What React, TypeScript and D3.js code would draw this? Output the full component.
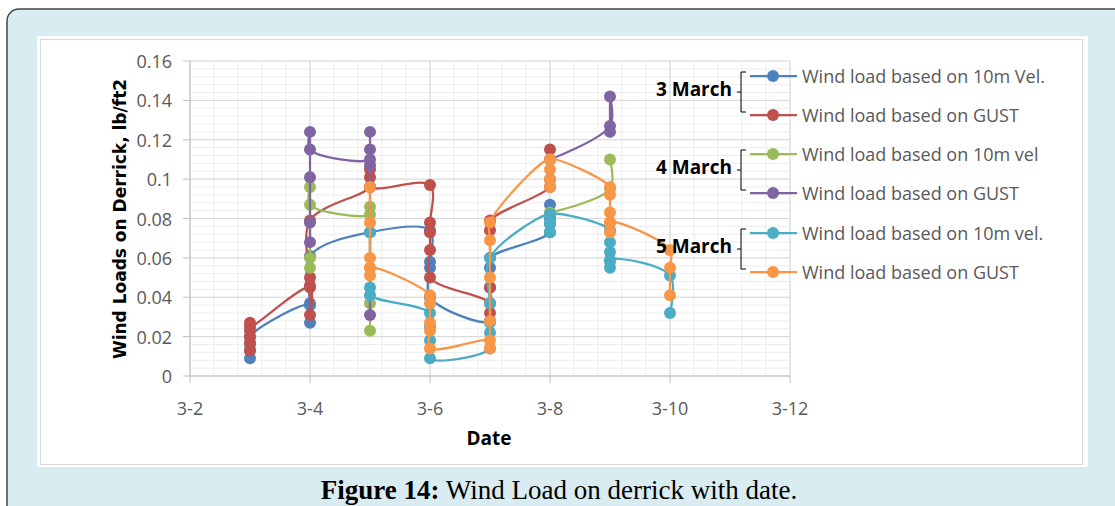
import * as d3 from 'd3';

// dates on the x axis (day of March)
const days = [3, 4, 5, 6, 7, 8, 9, 10];
const xTickDays = [2, 4, 6, 8, 10, 12];
const yTicks = [0, 0.02, 0.04, 0.06, 0.08, 0.1, 0.12, 0.14, 0.16];

// each entry = readings stacked on one date (null = no reading that date)
const mar3Vel10m = [
  [0.009, 0.013, 0.016, 0.02],
  [0.036, 0.027, 0.037, 0.061],
  [0.073],
  [0.074, 0.058, 0.055, 0.04],
  [0.028, 0.045, 0.055, 0.06],
  [0.073, 0.08, 0.087],
  null,
  null,
];
const mar3Gust = [
  [0.013, 0.017, 0.02, 0.023, 0.027, 0.025],
  [0.045, 0.031, 0.046, 0.05, 0.079],
  [0.096, 0.101, 0.105, 0.096],
  [0.097, 0.078, 0.073, 0.064, 0.05],
  [0.037, 0.032, 0.045, 0.074, 0.079],
  [0.096, 0.1, 0.115],
  null,
  null,
];
const mar4Vel10m = [
  null,
  [0.055, 0.06, 0.096, 0.087],
  [0.082, 0.086, 0.037, 0.023],
  null,
  null,
  [0.083],
  [0.095, 0.11],
  null,
];
const mar4Gust = [
  null,
  [0.068, 0.078, 0.101, 0.124, 0.115],
  [0.11, 0.115, 0.124, 0.107, 0.031],
  null,
  null,
  [0.11],
  [0.127, 0.142, 0.124],
  null,
];
const mar5Vel10m = [
  null,
  null,
  [0.073, 0.045, 0.041],
  [0.032, 0.025, 0.018, 0.009],
  [0.014, 0.022, 0.027, 0.037, 0.06],
  [0.082, 0.077, 0.073, 0.078, 0.082],
  [0.074, 0.068, 0.063, 0.058, 0.055, 0.059],
  [0.051, 0.032],
];
const mar5Gust = [
  null,
  null,
  [0.096, 0.078, 0.06, 0.055, 0.051, 0.055],
  [0.041, 0.037, 0.027, 0.023, 0.014],
  [0.018, 0.014, 0.028, 0.05, 0.069, 0.078],
  [0.11, 0.096, 0.1, 0.105, 0.11],
  [0.096, 0.092, 0.083, 0.078, 0.073, 0.078],
  [0.064, 0.055, 0.041],
];

const series = [
  { name: 'Wind load based on 10m Vel.', color: '#4F81BD', values: mar3Vel10m },
  { name: 'Wind load based on GUST', color: '#C0504D', values: mar3Gust },
  { name: 'Wind load based on 10m vel', color: '#9BBB59', values: mar4Vel10m },
  { name: 'Wind load based on GUST', color: '#8064A2', values: mar4Gust },
  { name: 'Wind load based on 10m vel.', color: '#4BACC6', values: mar5Vel10m },
  { name: 'Wind load based on GUST', color: '#F79646', values: mar5Gust },
];
const groups = ['3 March', '4 March', '5 March'];

type Pt = { d: number; v: number | null };

const x = d3.scaleLinear().domain([2, 12]).range([190, 790]);
const y = d3.scaleLinear().domain([0, 0.16]).range([376, 61]);

const toPoints = (vals: (number[] | null)[]): Pt[] =>
  days.flatMap((d, i) => (vals[i] ? vals[i]!.map((v) => ({ d, v })) : [{ d, v: null }]));

const line = d3
  .line<Pt>()
  .defined((p) => p.v != null)
  .x((p) => x(p.d))
  .y((p) => y(p.v as number))
  .curve(d3.curveCatmullRom.alpha(0.5));

const fmt = d3.format('.2~f');
const sans = '"Open Sans", sans-serif';

export default function App() {
  const minorX = d3.range(2, 12.001, 0.4);
  const minorY = d3.range(0, 0.1601, 0.004);
  const legendY = [76, 115, 154, 193, 233, 272];
  const bx = 741;

  return (
    <div style={{ position: 'absolute', left: 0, top: 0 }}>
      <svg width={1115} height={506} style={{ display: 'block' }}>
        <rect x={0} y={0} width={1115} height={506} fill="#fff" />
        <rect x={7} y={9} width={1200} height={600} rx={12} fill="#d8ecf2" stroke="#444" strokeWidth={1.5} />
        <rect x={37} y={36} width={1051} height={431} fill="#fff" />
        <rect x={40.5} y={39.5} width={1042} height={425} fill="none" stroke="#d9d9d9" />

        {/* minor grid */}
        {minorY.map((v, i) => (
          <line key={'my' + i} x1={190} x2={790} y1={y(v)} y2={y(v)} stroke="#ededed" />
        ))}
        {minorX.map((d, i) => (
          <line key={'mx' + i} x1={x(d)} x2={x(d)} y1={61} y2={376} stroke="#ededed" />
        ))}
        {/* major grid */}
        {yTicks.map((v) => (
          <line key={'gy' + v} x1={190} x2={790} y1={y(v)} y2={y(v)} stroke="#d9d9d9" />
        ))}
        {xTickDays.map((d) => (
          <line key={'gx' + d} x1={x(d)} x2={x(d)} y1={61} y2={376} stroke="#d9d9d9" />
        ))}

        {/* axes */}
        <line x1={190} x2={190} y1={61} y2={376} stroke="#bfbfbf" />
        <line x1={190} x2={790} y1={376} y2={376} stroke="#bfbfbf" />
        {yTicks.map((v) => (
          <g key={'ty' + v}>
            <line x1={183} x2={190} y1={y(v)} y2={y(v)} stroke="#bfbfbf" />
            <text x={172} y={y(v)} textAnchor="end" dominantBaseline="central" fontFamily={sans} fontSize={18} fill="#595959">
              {fmt(v)}
            </text>
          </g>
        ))}
        {xTickDays.map((d) => (
          <g key={'tx' + d}>
            <line x1={x(d)} x2={x(d)} y1={376} y2={383} stroke="#bfbfbf" />
            <text x={x(d)} y={408} textAnchor="middle" dominantBaseline="central" fontFamily={sans} fontSize={18} fill="#595959">
              {`3-${d}`}
            </text>
          </g>
        ))}

        <text x={489} y={438} textAnchor="middle" dominantBaseline="central" fontFamily={sans} fontWeight="bold" fontSize={19} fill="#000">
          Date
        </text>
        <text
          transform="translate(120,219) rotate(-90)"
          textAnchor="middle"
          dominantBaseline="central"
          fontFamily="DejaVu Sans, sans-serif"
          fontWeight="bold"
          fontSize={17}
          fill="#000"
        >
          Wind Loads on Derrick, lb/ft2
        </text>

        {/* series */}
        {series.map((s, i) => {
          const pts = toPoints(s.values);
          return (
            <g key={'s' + i}>
              <path d={line(pts) ?? ''} fill="none" stroke={s.color} strokeWidth={2.25} />
              {pts
                .filter((p) => p.v != null)
                .map((p, j) => (
                  <circle key={j} cx={x(p.d)} cy={y(p.v as number)} r={6} fill={s.color} />
                ))}
            </g>
          );
        })}

        {/* legend */}
        {series.map((s, i) => (
          <g key={'l' + i}>
            <line x1={750} x2={797} y1={legendY[i]} y2={legendY[i]} stroke={s.color} strokeWidth={2.25} />
            <circle cx={773} cy={legendY[i]} r={6} fill={s.color} />
            <text x={802} y={legendY[i]} dominantBaseline="central" fontFamily={sans} fontSize={18} fill="#595959">
              {s.name}
            </text>
          </g>
        ))}
        {groups.map((g, k) => {
          const y1 = legendY[2 * k] - 4;
          const y2 = legendY[2 * k + 1] - 3;
          const mid = (y1 + y2) / 2;
          return (
            <g key={'g' + k}>
              <path d={`M${bx + 5},${y1} H${bx} V${y2} H${bx + 5} M${bx},${mid} H${bx - 4}`} fill="none" stroke="#000" strokeWidth={1} />
              <text x={bx - 9} y={mid - 3} textAnchor="end" dominantBaseline="central" fontFamily={sans} fontWeight="bold" fontSize={19} fill="#000">
                {g}
              </text>
            </g>
          );
        })}

        {/* caption */}
        <text x={559} y={499} textAnchor="middle" fontFamily='"Liberation Serif", serif' fontSize={27} fill="#000">
          <tspan fontWeight="bold">Figure 14:</tspan> Wind Load on derrick with date.
        </text>
      </svg>
    </div>
  );
}
